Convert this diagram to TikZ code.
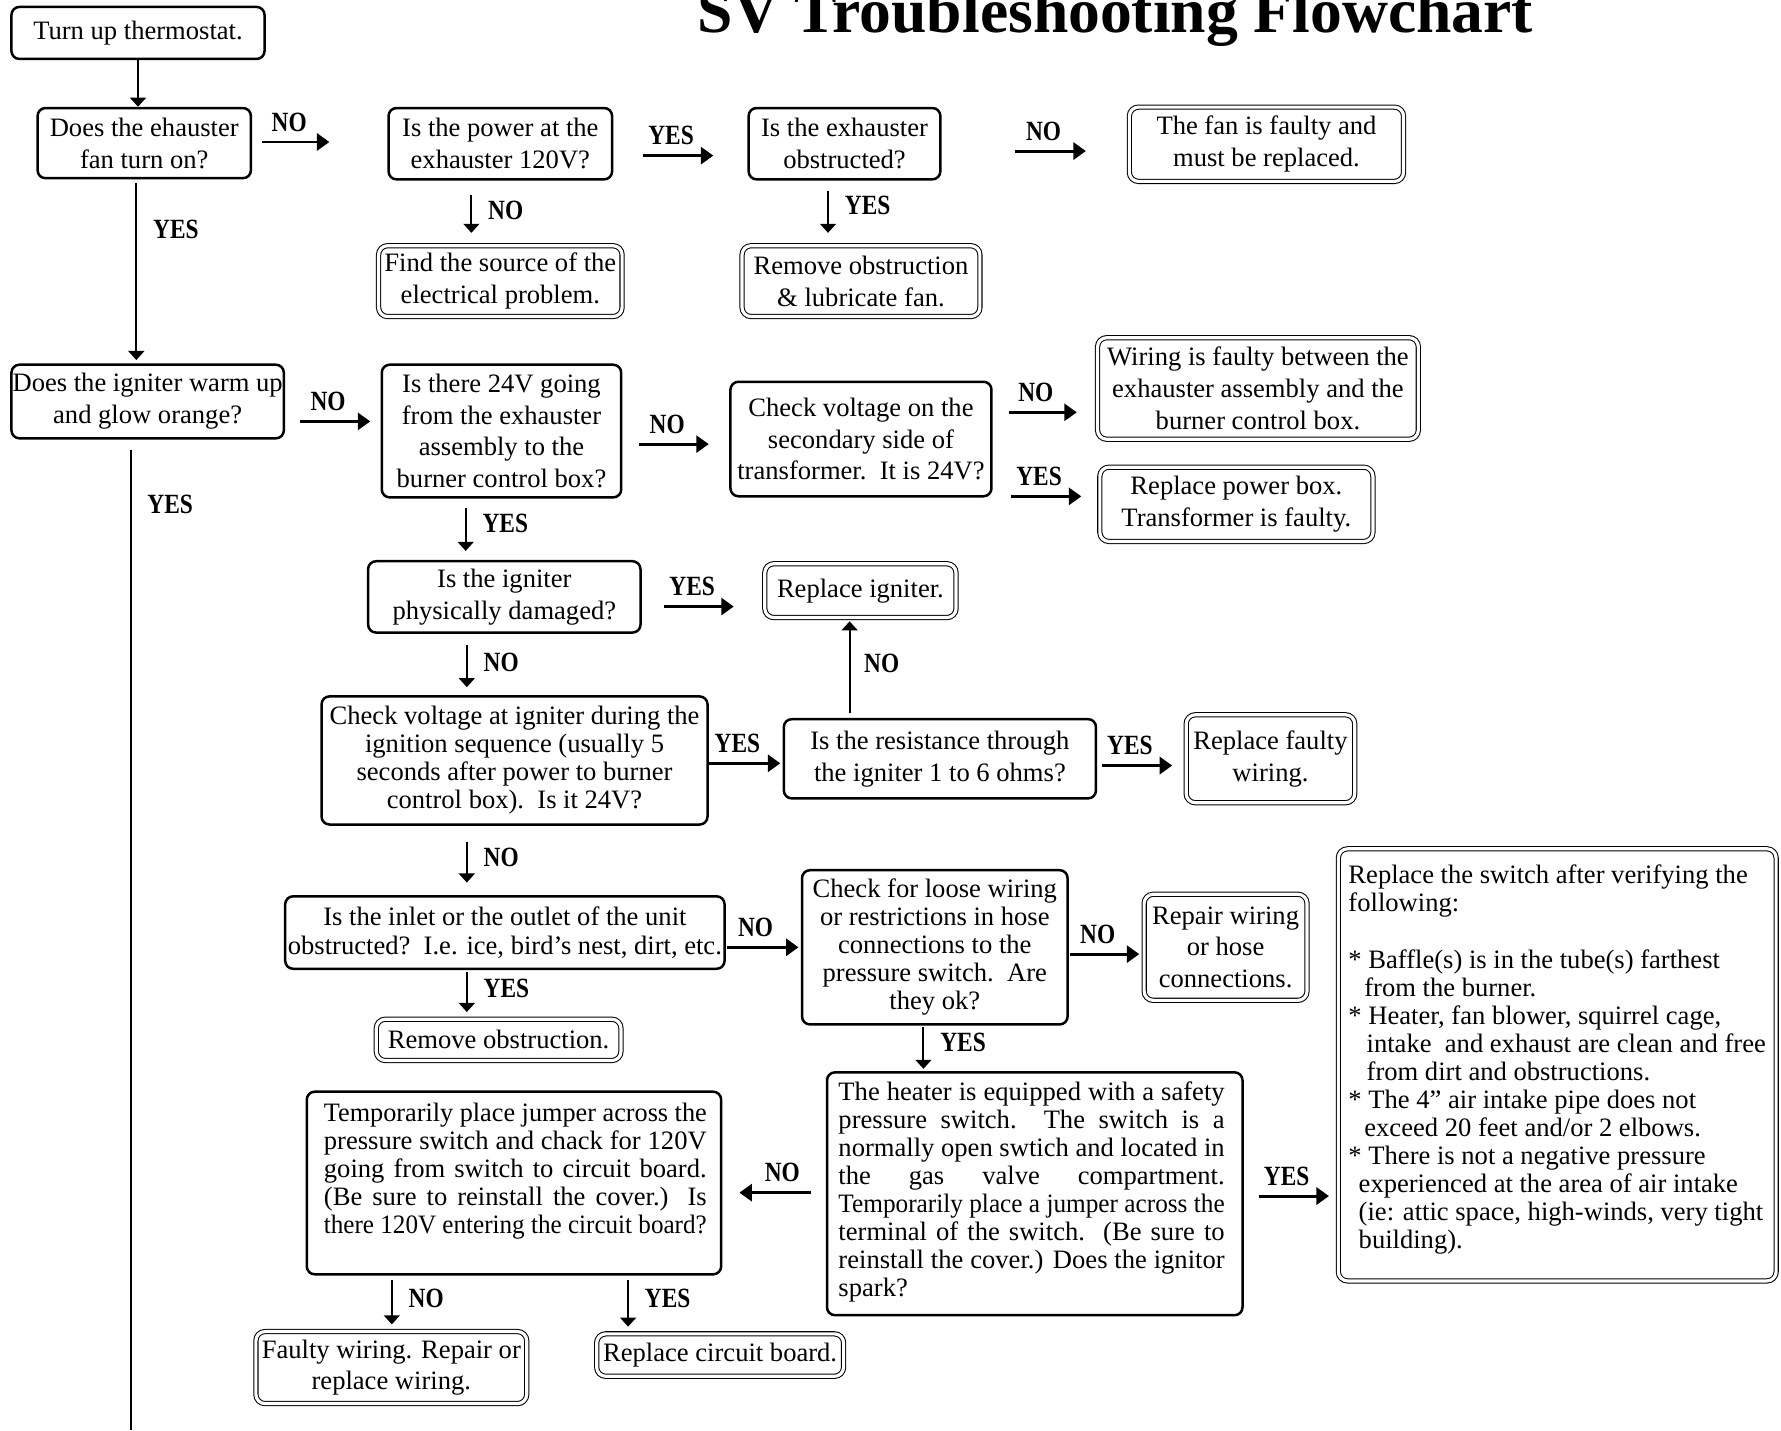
\documentclass[tikz,border=0pt]{standalone}
\usepackage{fontspec}
\usepackage{graphicx}
\setmainfont{Liberation Serif}
\newfontfamily\lblfont[FakeStretch=0.84]{Liberation Serif}
\usetikzlibrary{arrows.meta}
\newcommand\mainsz{\fontsize{23.4}{28}\selectfont}
\newcommand\tightsz{\fontsize{23.4}{24.7}\selectfont}
\newcommand\jline[2]{\setbox0=\hbox{#2}\ifdim\wd0>#1\relax\resizebox{#1}{\height}{#2}\else\makebox[#1][s]{#2}\fi}
\tikzset{
  box/.style={draw, line width=2.2pt, rounded corners=7pt, align=center, inner sep=0pt, font=\mainsz},
  dbox/.style={draw, double, double distance=2.8pt, line width=0.9pt, rounded corners=8pt, align=center, inner sep=0pt, font=\mainsz},
  harrow/.style={line width=2.6pt, -{Triangle[length=11pt,width=15pt]}},
  varrow/.style={line width=1.7pt, -{Triangle[length=8pt,width=14pt]}},
  lbl/.style={font=\lblfont\fontsize{24.5}{24.5}\selectfont\bfseries, inner sep=0pt},
  hl/.style={lbl, pos=0.4, above=8pt},
  vl/.style={lbl, right=14pt}
}
\begin{document}
\begin{tikzpicture}[x=1pt,y=-1pt]
\useasboundingbox (0,0) rectangle (1568,1259);
\node[font=\fontsize{56}{60}\selectfont\bfseries, anchor=base, inner sep=0pt] (title) at (982,29) {SV Troubleshooting Flowchart};

% decision / step boxes
\node[box, minimum width=222.8pt, minimum height=45.8pt] (t0) at (121.5,29) {Turn up thermostat.};
\node[box, minimum width=187.8pt, minimum height=61.8pt] (q1) at (127,126) {Does the ehauster\\fan turn on?};
\node[box, minimum width=196.8pt, minimum height=62.8pt] (q2) at (440.5,126.5) {Is the power at the\\exhauster 120V?};
\node[box, minimum width=168.8pt, minimum height=62.8pt] (q3) at (743.5,126.5) {Is the exhauster\\obstructed?};
\node[box, minimum width=239.8pt, minimum height=64.8pt] (q4) at (130,353.5) {Does the igniter warm up\\and glow orange?};
\node[box, minimum width=210.8pt, minimum height=116.8pt] (q5) at (441.5,379.5) {Is there 24V going\\from the exhauster\\assembly to the\\burner control box?};
\node[box, minimum width=229.8pt, minimum height=100.8pt] (q6) at (758,386.5) {Check voltage on the\\secondary side of\\transformer.\ \ It is 24V?};
\node[box, minimum width=239.8pt, minimum height=62.8pt] (q7) at (444,525.5) {Is the igniter\\physically damaged?};
\node[box, font=\tightsz, minimum width=339.8pt, minimum height=112.8pt] (q8) at (453,669.5) {Check voltage at igniter during the\\ignition sequence (usually 5\\seconds after power to burner\\control box).\ \ Is it 24V?};
\node[box, minimum width=274.8pt, minimum height=69.8pt] (q9) at (827.5,668) {Is the resistance through\\the igniter 1 to 6 ohms?};
\node[box, font=\fontsize{23.4}{25}\selectfont, minimum width=386.8pt, minimum height=63.8pt] (q10) at (444.5,821) {Is the inlet or the outlet of the unit\\obstructed?\ \ I.e. ice, bird’s nest, dirt, etc.};
\node[box, font=\tightsz, minimum width=233.8pt, minimum height=135.8pt] (q11) at (823,834) {Check for loose wiring\\or restrictions in hose\\connections to the\\pressure switch.\ \ Are\\they ok?};
\node[box, minimum width=365.8pt, minimum height=213.8pt] (q12) at (911,1051) {};
\node[anchor=north west, inner sep=0pt, align=left, font=\tightsz] (q12t) at (738,951.2) {%
\strut\jline{340pt}{The heater is equipped with a safety}\\
\strut\jline{340pt}{pressure switch.\ \ The switch is a}\\
\strut\jline{340pt}{normally open swtich and located in}\\
\strut\jline{340pt}{the gas valve compartment.}\\
\strut\jline{340pt}{Temporarily place a jumper across the}\\
\strut\jline{340pt}{terminal of the switch.\ \ (Be sure to}\\
\strut\jline{340pt}{reinstall the cover.) Does the ignitor}\\
\strut spark?};
\node[box, minimum width=364.8pt, minimum height=160.8pt] (q13) at (452.5,1041.5) {};
\node[anchor=north west, inner sep=0pt, align=left, font=\tightsz] (q13t) at (285,969.7) {%
\strut\jline{337pt}{Temporarily place jumper across the}\\
\strut\jline{337pt}{pressure switch and chack for 120V}\\
\strut\jline{337pt}{going from switch to circuit board.}\\
\strut\jline{337pt}{(Be sure to reinstall the cover.) Is}\\
\strut\jline{337pt}{there 120V entering the circuit board?}};

% result boxes (double border)
\node[dbox, minimum width=241.4pt, minimum height=65.4pt] (r1) at (1115,127) {The fan is faulty and\\must be replaced.};
\node[dbox, minimum width=214.4pt, minimum height=62.4pt] (r2) at (440.5,247.5) {Find the source of the\\electrical problem.};
\node[dbox, minimum width=209.4pt, minimum height=62.4pt] (r3) at (758,247.5) {Remove obstruction\\\& lubricate fan.};
\node[dbox, minimum width=282.4pt, minimum height=89.4pt] (r4) at (1107.5,342) {Wiring is faulty between the\\exhauster assembly and the\\burner control box.};
\node[dbox, minimum width=240.4pt, minimum height=65.4pt] (r5) at (1088.5,444) {Replace power box.\\Transformer is faulty.};
\node[dbox, minimum width=168.4pt, minimum height=47.4pt] (r6) at (757.5,520) {Replace igniter.};
\node[dbox, minimum width=148.4pt, minimum height=77.4pt] (r7) at (1118.5,668) {Replace faulty\\wiring.};
\node[dbox, minimum width=143.4pt, minimum height=93.4pt] (r8) at (1079,834) {Repair wiring\\or hose\\connections.};
\node[dbox, minimum width=215.4pt, minimum height=36.4pt] (r9) at (439,915.5) {Remove obstruction.};
\node[dbox, minimum width=385.4pt, minimum height=380.4pt] (r10) at (1371,937.5) {};
\node[anchor=north west, inner sep=0pt, align=left, font=\tightsz] (r10t) at (1187,760.7) {%
\strut Replace the switch after verifying the\\
\strut following:\\
\strut\\
\strut * Baffle(s) is in the tube(s) farthest\\
\strut\hspace*{14pt}from the burner.\\
\strut * Heater, fan blower, squirrel cage,\\
\strut\hspace*{16pt}intake\ \ and exhaust are clean and free\\
\strut\hspace*{16pt}from dirt and obstructions.\\
\strut * The 4” air intake pipe does not\\
\strut\hspace*{14pt}exceed 20 feet and/or 2 elbows.\\
\strut * There is not a negative pressure\\
\strut\hspace*{9pt}experienced at the area of air intake\\
\strut\hspace*{9pt}(ie: attic space, high-winds, very tight\\
\strut\hspace*{9pt}building).};
\node[dbox, minimum width=238.4pt, minimum height=63.4pt] (r11) at (344.5,1204) {Faulty wiring. Repair or\\replace wiring.};
\node[dbox, minimum width=217.4pt, minimum height=37.4pt] (r12) at (634,1193) {Replace circuit board.};

% connector end points
\coordinate (a1s) at (231,125);  \coordinate (a1e) at (290,125);
\coordinate (a2s) at (566,137);  \coordinate (a2e) at (628,137);
\coordinate (a3s) at (894,133);  \coordinate (a3e) at (956,133);
\coordinate (a4s) at (264,371);  \coordinate (a4e) at (326,371);
\coordinate (a5s) at (563,391);  \coordinate (a5e) at (624,391);
\coordinate (a6s) at (888,363);  \coordinate (a6e) at (948,363);
\coordinate (a7s) at (890,437);  \coordinate (a7e) at (952,437);
\coordinate (a8s) at (585,534);  \coordinate (a8e) at (646,534);
\coordinate (a9s) at (624,672);  \coordinate (a9e) at (687,672);
\coordinate (a10s) at (970,674); \coordinate (a10e) at (1032,674);
\coordinate (a11s) at (640,834); \coordinate (a11e) at (703,834);
\coordinate (a12s) at (942,840); \coordinate (a12e) at (1003,840);
\coordinate (a13s) at (714,1050); \coordinate (a13e) at (651,1050);
\coordinate (a14s) at (1108,1053); \coordinate (a14e) at (1170,1053);

\coordinate (v1s) at (415,172);  \coordinate (v1e) at (415,205);
\coordinate (v2s) at (729,168);  \coordinate (v2e) at (729,205);
\coordinate (v3s) at (120,161);  \coordinate (v3e) at (120,317);
\coordinate (v4s) at (410,447);  \coordinate (v4e) at (410,485);
\coordinate (v5s) at (411,568);  \coordinate (v5e) at (411,605);
\coordinate (v6s) at (748,628);  \coordinate (v6e) at (748,547);
\coordinate (v7s) at (411,741);  \coordinate (v7e) at (411,777);
\coordinate (v8s) at (411,856);  \coordinate (v8e) at (411,891);
\coordinate (v9s) at (813,904);  \coordinate (v9e) at (813,941);
\coordinate (v10s) at (345,1127); \coordinate (v10e) at (345,1166);
\coordinate (v11s) at (553,1127); \coordinate (v11e) at (553,1168);
\coordinate (Ls) at (115,396);   \coordinate (Le) at (115,1259);

% horizontal connectors
\draw[harrow] (a1s) -- node[hl] {NO} (a1e);
\draw[harrow] (a2s) -- node[hl] {YES} (a2e);
\draw[harrow] (a3s) -- node[hl] {NO} (a3e);
\draw[harrow] (a4s) -- node[hl] {NO} (a4e);
\draw[harrow] (a5s) -- node[hl] {NO} (a5e);
\draw[harrow] (a6s) -- node[hl] {NO} (a6e);
\draw[harrow] (a7s) -- node[hl] {YES} (a7e);
\draw[harrow] (a8s) -- node[hl] {YES} (a8e);
\draw[harrow] (a9s) -- node[hl] {YES} (a9e);
\draw[harrow] (a10s) -- node[hl] {YES} (a10e);
\draw[harrow] (a11s) -- node[hl] {NO} (a11e);
\draw[harrow] (a12s) -- node[hl] {NO} (a12e);
\draw[harrow] (a13s) -- node[hl] {NO} (a13e);
\draw[harrow] (a14s) -- node[hl] {YES} (a14e);

% vertical connectors
\draw[varrow] (t0.south) -- (t0.south |- q1.north);
\draw[varrow] (v1s) -- node[vl, pos=0.4] {NO} (v1e);
\draw[varrow] (v2s) -- node[vl, pos=0.35] {YES} (v2e);
\draw[varrow] (v3s) -- node[vl, pos=0.26] {YES} (v3e);
\draw[varrow] (v4s) -- node[vl, pos=0.37] {YES} (v4e);
\draw[varrow] (v5s) -- node[vl, pos=0.4] {NO} (v5e);
\draw[varrow] (v6s) -- node[lbl, right=12pt, pos=0.54] {NO} (v6e);
\draw[varrow] (v7s) -- node[vl, pos=0.39] {NO} (v7e);
\draw[varrow] (v8s) -- node[vl, pos=0.4] {YES} (v8e);
\draw[varrow] (v9s) -- node[vl, pos=0.38] {YES} (v9e);
\draw[varrow] (v10s) -- node[vl, pos=0.41] {NO} (v10e);
\draw[varrow] (v11s) -- node[vl, pos=0.39] {YES} (v11e);
\draw[line width=1.7pt] (Ls) -- node[vl, pos=0.056] {YES} (Le);
\end{tikzpicture}
\end{document}
